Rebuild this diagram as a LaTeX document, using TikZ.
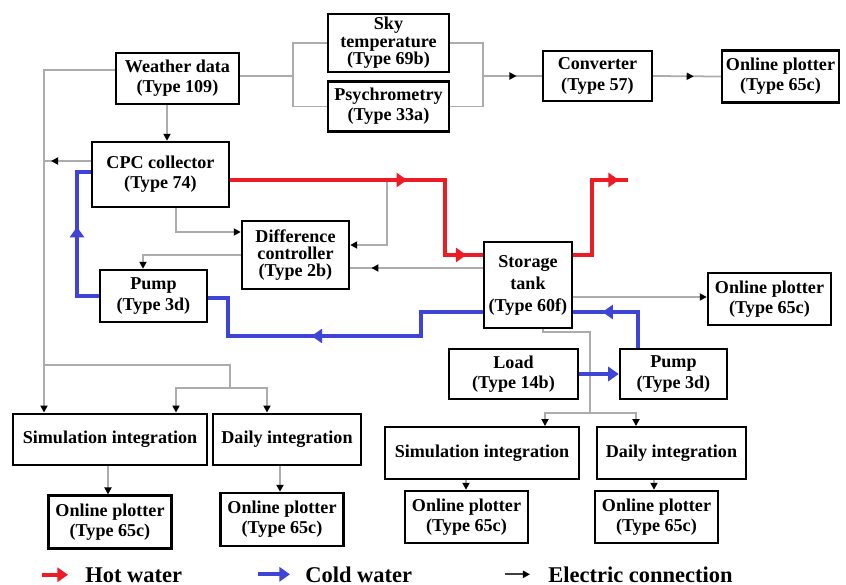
\documentclass[tikz,border=0pt]{standalone}
\usepackage{fontspec}
\setmainfont{Liberation Serif}
\usetikzlibrary{arrows.meta, positioning, decorations.markings}

\definecolor{hotred}{RGB}{237,28,36}
\definecolor{coldblue}{RGB}{61,68,214}

\tikzset{
  blk/.style={rectangle, draw=black, line width=1.4pt, inner sep=1pt,
              align=center, font=\fontsize{10.3}{11.5}\selectfont\bfseries},
  plotter/.style={blk, minimum width=2.46cm, minimum height=1.04cm},
  integ/.style={blk, minimum height=1.03cm},
  elec/.style={draw=gray!65, line width=1pt},
  hot/.style={color=hotred, line width=2.3pt},
  cold/.style={color=coldblue, line width=2.3pt},
  emid/.style={postaction={decorate, decoration={markings,
      mark=at position #1 with {\arrow{Triangle[length=4pt,width=4pt,color=black]}}}}},
  wmid/.style={postaction={decorate, decoration={markings,
      mark=at position #1 with {\arrow{Triangle[length=6pt,width=8pt]}}}}},
  legtxt/.style={font=\fontsize{12.8}{14}\selectfont\bfseries, inner sep=0pt, anchor=base west}
}

\begin{document}
\begin{tikzpicture}[x=0.02cm, y=-0.02cm,
    >={Triangle[length=4pt,width=4pt,color=black]}]

  \useasboundingbox (0,0) rectangle (846,585);

  % Top row: weather data and sky models
  \node[blk, minimum width=2.46cm, minimum height=1.02cm] (weather) at (177.5,78.5)
        {Weather data\\(Type 109)};
  \node[blk, minimum width=2.42cm, minimum height=1.16cm] (sky) at (388.5,43)
        {Sky\\[-1.5pt]temperature\\[-1.5pt](Type 69b)};
  \node[blk, minimum width=2.42cm, minimum height=1.0cm, below=0.14cm of sky] (psy)
        {Psychrometry\\(Type 33a)};
  \node[blk, minimum width=2.18cm, minimum height=1.0cm] (conv) at (597.5,76)
        {Converter\\(Type 57)};
  \node[plotter, minimum width=2.34cm] (plotA) at (780.5,76.5) {Online plotter\\(Type 65c)};

  % Collector loop and tank
  \node[blk, minimum width=2.74cm, minimum height=1.3cm] (cpc) at (160.5,174.5)
        {CPC collector\\(Type 74)};
  \node[blk, minimum width=2.14cm, minimum height=1.36cm] (diff) at (295.5,255)
        {Difference\\[-2pt]controller\\[-2pt](Type 2b)};
  \node[blk, minimum width=2.14cm, minimum height=1.04cm] (pumpL) at (153.5,296)
        {Pump\\(Type 3d)};
  \node[blk, minimum width=1.76cm, minimum height=1.72cm] (tank) at (528,285)
        {Storage\\[1pt]tank\\[1pt](Type 60f)};
  \node[plotter] (plotB) at (769.5,299) {Online plotter\\(Type 65c)};
  \node[blk, minimum width=2.58cm, minimum height=1.0cm] (load) at (513.5,374)
        {Load\\(Type 14b)};
  \node[blk, minimum width=2.14cm, minimum height=1.0cm] (pumpR) at (673.5,374)
        {Pump\\(Type 3d)};

  % Integrators and their plotters
  \node[integ, minimum width=3.88cm] (simL) at (110,439.5) {Simulation integration};
  \node[integ, minimum width=2.96cm] (dayL) at (287,439.5) {Daily integration};
  \node[plotter, minimum height=1.06cm, below=0.56cm of simL] (plotC) {Online plotter\\(Type 65c)};
  \node[plotter, minimum height=1.06cm] (plotD) at (282,519.5) {Online plotter\\(Type 65c)};
  \node[integ, minimum width=3.88cm] (simR) at (482,453) {Simulation integration};
  \node[integ, minimum width=2.98cm] (dayR) at (671.5,453) {Daily integration};
  \node[plotter] (plotE) at (466.5,517) {Online plotter\\(Type 65c)};
  \node[plotter] (plotF) at (656.5,517) {Online plotter\\(Type 65c)};

  % Junctions
  \coordinate (wj) at (293,76);
  \coordinate (sj) at (483,76);
  \coordinate (trunk) at (44,70);
  \coordinate (lj) at (230,388);
  \coordinate (tap) at (387,180);
  \coordinate (rj) at (590,413);
  \coordinate (hotout) at (628,180);

  % Electric connections
  \draw[elec] (weather.east |- wj) -- (wj);
  \draw[elec] (sky.west) -| (wj) |- (psy.west);
  \draw[elec] (sky.east) -| (sj) |- (psy.east);
  \draw[elec, emid=0.57] (sj) -- (conv.west);
  \draw[elec, emid=0.6] (conv.east) -- (plotA.west);
  \draw[elec, ->] (weather.south -| 167,0) -- (cpc.north -| 167,0);
  \draw[elec, ->] (weather.west |- trunk) -- (trunk) -- (simL.north -| trunk);
  \draw[elec, emid=0.85] (cpc.west |- 0,161) -- (trunk |- 0,161);
  \draw[elec] (trunk |- 0,365) -| (lj);
  \draw[elec, ->] (lj) -| (simL.north -| 176,0);
  \draw[elec, ->] (lj) -| (dayL.north -| 267,0);
  \draw[elec, ->] (cpc.south -| 176,0) |- (diff.west |- 0,232);
  \draw[elec, ->] (diff.west) -| (pumpL.north -| 143,0);
  \draw[elec, ->] (tap) |- (diff.east |- 0,245);
  \draw[elec, emid=0.84] (tank.west |- 0,268) -- (diff.east |- 0,268);
  \draw[elec, ->] (tank.east |- 0,297) -- (plotB.west |- 0,297);
  \draw[elec] (tank.south -| 543,0) |- (rj |- 0,332) -- (rj);
  \draw[elec, ->] (rj) -| (simR.north -| 545,0);
  \draw[elec, ->] (rj) -| (dayR.north -| 636,0);
  \draw[elec, ->] (simL.south -| 108,0) -- (plotC.north -| 108,0);
  \draw[elec, ->] (dayL.south -| 280,0) -- (plotD.north -| 280,0);
  \draw[elec, ->] (simR.south -| 466,0) -- (plotE.north -| 466,0);
  \draw[elec, ->] (dayR.south -| 654,0) -- (plotF.north -| 654,0);

  % Hot water
  \draw[hot, wmid=0.54, wmid=0.95] (cpc.east |- tap) -| (445,255) -- (tank.west |- 0,255);
  \draw[hot, wmid=0.93] (tank.east |- 0,255) -| (592,180) -- (hotout);

  % Cold water
  \draw[cold, wmid=0.57] (pumpL.west) -| (77,172) -- (cpc.west |- 0,172);
  \draw[cold, wmid=0.58] (tank.west |- 0,312) -| (421,336) -| (228,298) -- (pumpL.east |- 0,298);
  \draw[cold, -{Triangle[length=6pt,width=8pt]}] (load.east) -- (pumpR.west);
  \draw[cold, wmid=0.71] (pumpR.north -| 638,0) |- (tank.east |- 0,312);

  % Legend
  \node[legtxt] (hotlbl) at (85,582) {Hot water};
  \node[legtxt] (coldlbl) at (305,582) {Cold water};
  \node[legtxt] (eleclbl) at (548,582) {Electric connection};
  \draw[hot, -{Triangle[length=6pt,width=8pt]}] ([xshift=-0.86cm]hotlbl.west) -- ([xshift=-0.34cm]hotlbl.west);
  \draw[cold, -{Triangle[length=6pt,width=8pt]}] ([xshift=-0.94cm]coldlbl.west) -- ([xshift=-0.3cm]coldlbl.west);
  \draw[elec, draw=black!75, ->] ([xshift=-0.86cm]eleclbl.west) -- ([xshift=-0.36cm]eleclbl.west);

\end{tikzpicture}
\end{document}
